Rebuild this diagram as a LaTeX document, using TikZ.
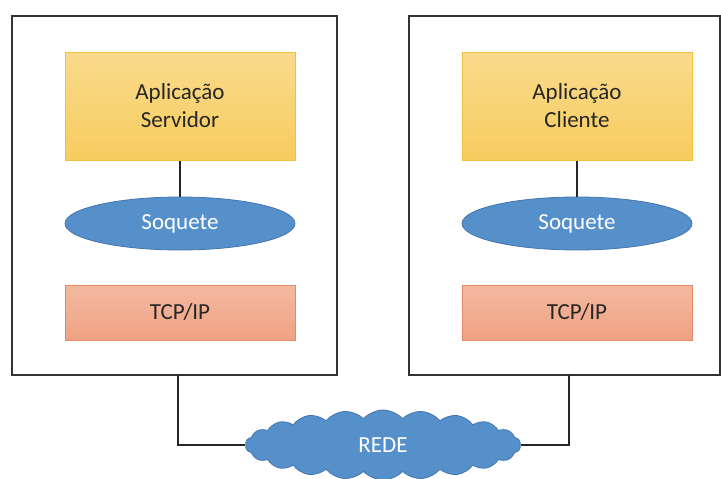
\documentclass[tikz,border=0pt]{standalone}
\usepackage{fontspec}
\setmainfont{Carlito}
\usetikzlibrary{shapes.geometric,shapes.symbols}

\definecolor{apptop}{HTML}{FADB8C}
\definecolor{appbot}{HTML}{F7CC5E}
\definecolor{appline}{HTML}{F2C03C}
\definecolor{tcptop}{HTML}{F4B9A0}
\definecolor{tcpbot}{HTML}{EFA283}
\definecolor{tcpline}{HTML}{E6896A}
\definecolor{sockfill}{HTML}{5690CB}
\definecolor{sockline}{HTML}{4576AE}

\begin{document}
\begin{tikzpicture}[x=1pt,y=-1pt,
    font=\fontsize{23}{28}\selectfont,
    hostbox/.style={draw=black!80,line width=1.2pt,minimum width=325pt,minimum height=359pt,inner sep=0pt},
    appbox/.style={draw=appline,line width=1pt,top color=apptop,bottom color=appbot,minimum width=230pt,minimum height=108pt,align=center,text=black!85},
    sockbox/.style={ellipse,draw=sockline,line width=0.8pt,fill=sockfill,minimum width=230pt,minimum height=53pt,text=white,inner sep=0pt},
    tcpbox/.style={draw=tcpline,line width=1pt,top color=tcptop,bottom color=tcpbot,minimum width=230pt,minimum height=55pt,text=black!85},
    link/.style={draw=black!85,line width=1.2pt}]
    \useasboundingbox (0,0) rectangle (721,479);

    % Server side
    \node[hostbox] (srv) at (174.5,195.5) {};
    \node[appbox] (srvapp) at (180,106) {Aplicação\\Servidor};
    \node[sockbox] (srvsock) at (180,223.5) {Soquete};
    \node[tcpbox] (srvtcp) at (180,312.5) {TCP/IP};
    \draw[link] (srvapp) -- (srvsock);

    % Client side
    \node[hostbox,minimum width=311pt] (cli) at (564.5,195.5) {};
    \node[appbox] (cliapp) at (577,106) {Aplicação\\Cliente};
    \node[sockbox] (clisock) at (577,223.5) {Soquete};
    \node[tcpbox] (clitcp) at (577,312.5) {TCP/IP};
    \draw[link] (cliapp) -- (clisock);

    % Network
    \node[cloud,cloud puffs=22,cloud puff arc=95,aspect=4.2,draw=sockline,line width=0.8pt,fill=sockfill,
          minimum width=275pt,minimum height=70pt,text=white,inner sep=0pt] (rede) at (383,445) {REDE};

    % Links to the network
    \coordinate (srvout) at (178,375);
    \coordinate (cliout) at (569,375);
    \draw[link] (srvout) |- (rede.west);
    \draw[link] (cliout) |- (rede.east);
\end{tikzpicture}
\end{document}
